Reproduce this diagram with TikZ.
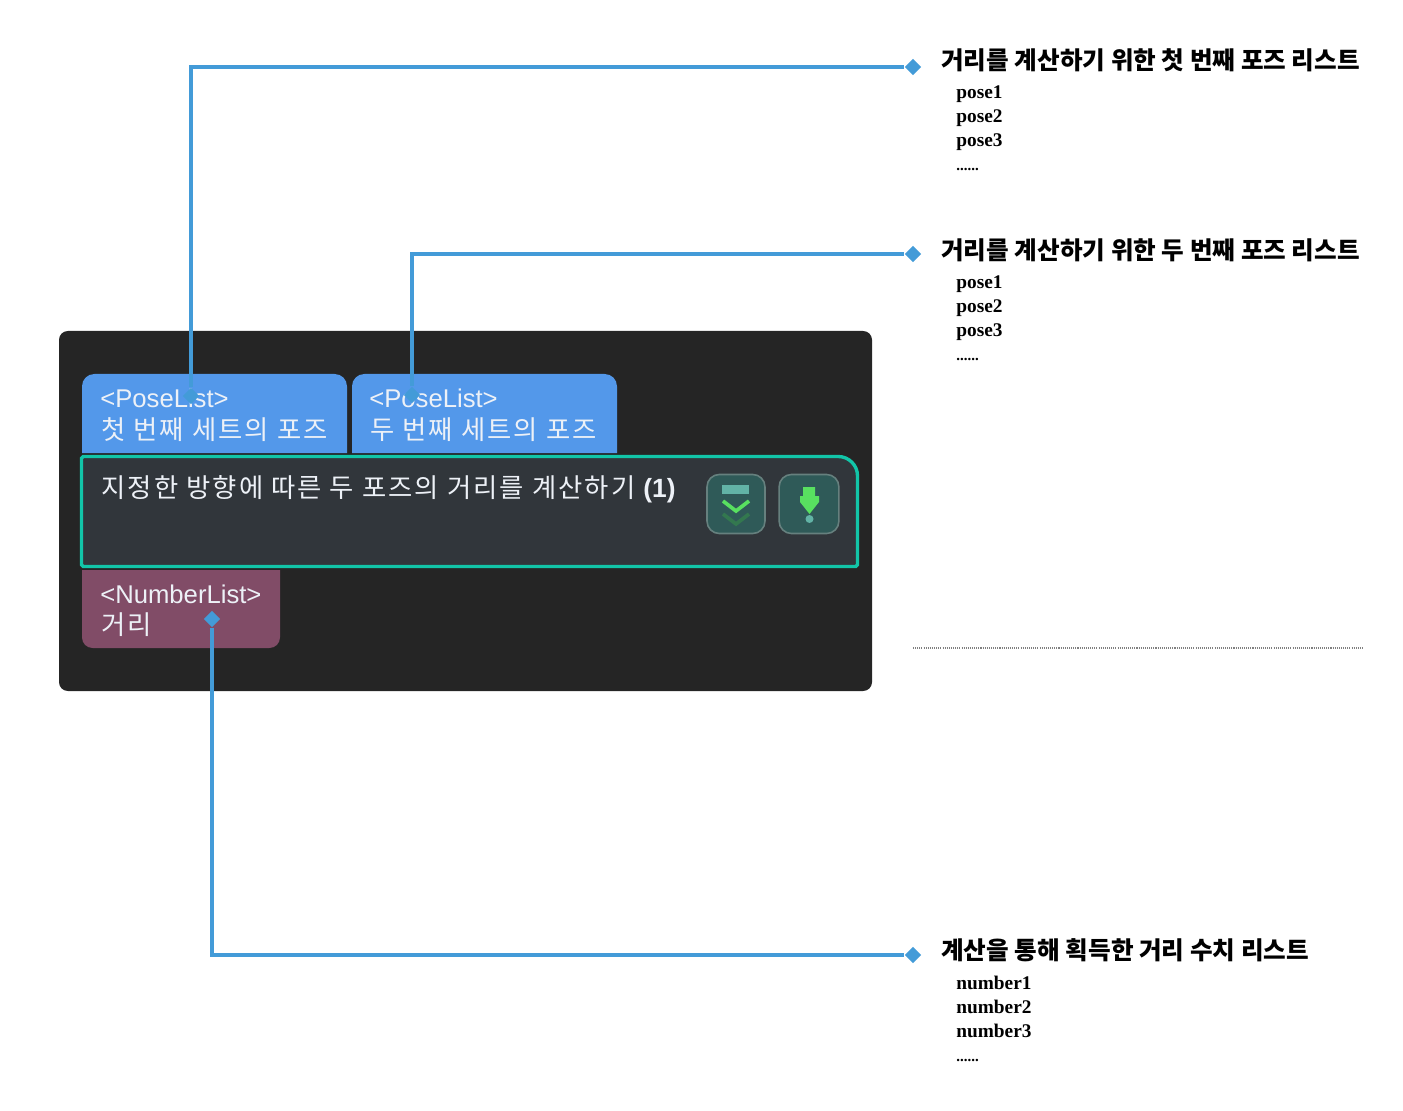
\documentclass[tikz,border=0pt]{standalone}
\usepackage{fontspec}
\setmainfont{Liberation Serif}
\newfontfamily\krfont{Noto Sans CJK KR}
\newfontfamily\kruifont[LetterSpace=8]{Noto Sans CJK KR}
\newfontfamily\uifont{Liberation Sans}
\usetikzlibrary{arrows.meta, positioning, calc, shapes.geometric}
\definecolor{panelbg}{HTML}{252525}
\definecolor{poseblue}{HTML}{5398EA}
\definecolor{numplum}{HTML}{814C67}
\definecolor{mainbg}{HTML}{31363B}
\definecolor{teal}{HTML}{12C5A8}
\definecolor{linkblue}{HTML}{439BD8}
\definecolor{btnbg}{HTML}{2F5A58}
\definecolor{btnedge}{HTML}{66807E}
\definecolor{icongreen}{HTML}{58E060}
\definecolor{icondim}{HTML}{33784F}
\definecolor{iconpale}{HTML}{62B3A6}
\definecolor{portlabel}{HTML}{EDF1F7}
\newcommand{\uisize}{\fontsize{14.6}{17}\selectfont}
\newcommand{\krsize}{\fontsize{15}{17}\selectfont}
\tikzset{
  title/.style={anchor=west,inner sep=0pt,font=\krfont\bfseries\fontsize{14}{17}\selectfont},
  items/.style={anchor=north west,inner sep=0pt,align=left,font=\bfseries\fontsize{11}{13.66}\selectfont},
  portlabel/.style={anchor=west,inner sep=0pt,text=portlabel},
  pin/.style={diamond,fill=linkblue,inner sep=0pt,minimum width=9.4pt,minimum height=9.4pt},
  link/.style={draw=linkblue,line width=1.8pt},
  btn/.style={rectangle,rounded corners=7pt,draw=btnedge,fill=btnbg,line width=0.9pt,
    minimum height=33.6pt,inner sep=0pt},
}
\begin{document}
\begin{tikzpicture}[x=0.02cm,y=-0.02cm]
  \useasboundingbox (0,0) rectangle (1403,1111);
  % dark panel with the three ports
  \fill[panelbg,rounded corners=5pt] (59,331) rectangle (872,691);
  \fill[poseblue,rounded corners=7pt] (82,453) [sharp corners] -- (82,430) [rounded corners=7pt] -- (82,374) -- (347,374) [sharp corners] -- (347,430) -- (347,453) -- cycle;
  \fill[poseblue,rounded corners=7pt] (352,453) [sharp corners] -- (352,430) [rounded corners=7pt] -- (352,374) -- (617,374) [sharp corners] -- (617,430) -- (617,453) -- cycle;
  \fill[numplum,rounded corners=6pt] (82,570) [sharp corners] -- (82,600) [rounded corners=6pt] -- (82,648) -- (280,648) [sharp corners] -- (280,600) -- (280,570) -- cycle;
  \draw[teal,fill=mainbg,line width=1.9pt,rounded corners=1pt] (81.5,566.5) -- (81.5,456.5) [rounded corners=11pt] -- (857.5,456.5) [rounded corners=1pt] -- (857.5,566.5) -- cycle;

  \node[portlabel,font=\uifont\uisize] (poseA) at (100,398) {<PoseList>};
  \node[portlabel,font=\kruifont\krsize] (poseAname) at (101,429.5) {첫 번째 세트의 포즈};
  \node[portlabel,font=\uifont\uisize] (poseB) at (369,398) {<PoseList>};
  \node[portlabel,font=\kruifont\krsize] (poseBname) at (370,429.5) {두 번째 세트의 포즈};
  \node[portlabel,font=\uifont\uisize] (numlist) at (100,594) {<NumberList>};
  \node[portlabel,font=\kruifont\krsize] (numname) at (101,625) {거리};
  \node[portlabel,font=\kruifont\krsize] (steptext) at (101,489.5) {지정한 방향에 따른 두 포즈의 거리를 계산하기 {\uifont\bfseries (1)}};

  % buttons
  \node[btn,minimum width=33pt] (btnA) at (736,504) {};
  \node[btn,minimum width=34pt] (btnB) at (809,504) {};
  \fill[iconpale] (722,485) rectangle (749,494);
  \draw[icongreen,line width=2.1pt] (723,501) -- (736,511) -- (749,501);
  \draw[icondim,line width=2.1pt] (723,514) -- (736,524) -- (749,514);
  \fill[icongreen] (803,487) -- (815,487) -- (815,496) -- (819,496) -- (819,502) -- (809.5,514) -- (800,502) -- (800,496) -- (803,496) -- cycle;
  \fill[iconpale] (809.5,519) circle (4);

  % right hand notes
  \node[title] (firsttitle) at (941,60) {거리를 계산하기 위한 첫 번째 포즈 리스트};
  \node[items] (firstitems) at (956,85.5) {pose1\\pose2\\pose3\\{\fontsize{8.5}{13.66}\selectfont......}};
  \node[title] (secondtitle) at (941,250) {거리를 계산하기 위한 두 번째 포즈 리스트};
  \node[items] (seconditems) at (956,275.5) {pose1\\pose2\\pose3\\{\fontsize{8.5}{13.66}\selectfont......}};
  \node[title] (resulttitle) at (941,950) {계산을 통해 획득한 거리 수치 리스트};
  \node[items] (resultitems) at (956,975.5) {number1\\number2\\number3\\{\fontsize{8.5}{13.66}\selectfont......}};

  \coordinate (rulestart) at (913,648);
  \coordinate (ruleend) at (1363,648);
  \draw[gray,line width=0.6pt,dash pattern=on 0.6pt off 0.6pt] (rulestart) -- (ruleend);

  % connectors
  \node[pin] (pinA) at (191,396) {};
  \node[pin] (pinB) at (412,395) {};
  \node[pin] (pinC) at (212,619) {};
  \node[pin] (noteA) at (913,67) {};
  \node[pin] (noteB) at (913,254) {};
  \node[pin] (noteC) at (913,955) {};
  \draw[link] (pinA) |- (noteA);
  \draw[link] (pinB) |- (noteB);
  \draw[link] (pinC) |- (noteC);
\end{tikzpicture}
\end{document}
